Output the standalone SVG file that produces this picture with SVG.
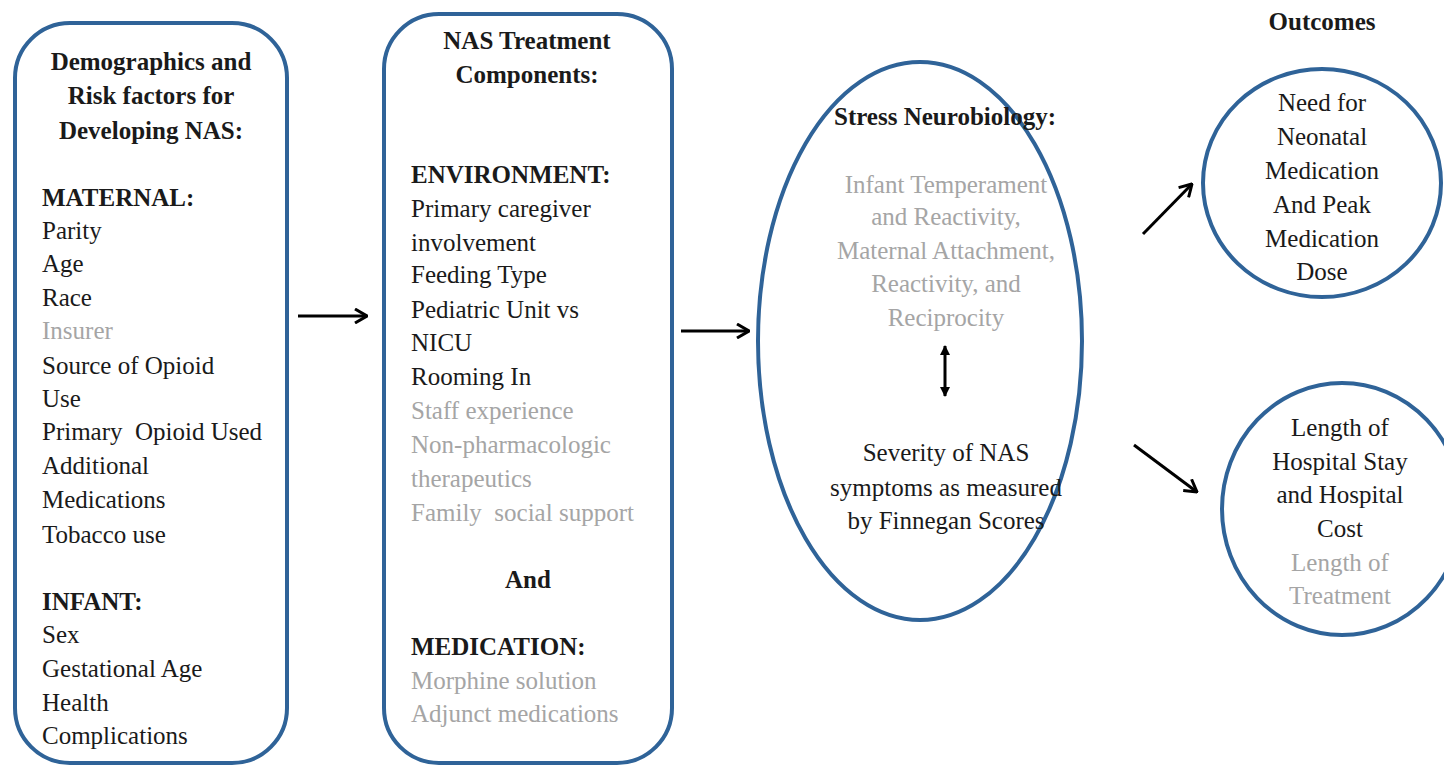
<svg xmlns="http://www.w3.org/2000/svg" width="1444" height="767" viewBox="0 0 1444 767">
<defs>
<style>
.shape{fill:#fff;stroke:#2f6398;stroke-width:4}
.t{font-family:"Liberation Serif","Times New Roman",serif;font-size:25px;fill:#1a1a1a}
.b{font-weight:bold}
.g{fill:#a5a5a5}
.c{text-anchor:middle}
.conn{stroke:#000;stroke-width:3;fill:none}
</style>
<marker id="open" viewBox="0 0 14 16" refX="13" refY="8" markerWidth="14" markerHeight="16" markerUnits="userSpaceOnUse" orient="auto">
<polyline points="1,1 13,8 1,15" fill="none" stroke="#000" stroke-width="3"/>
</marker>
<marker id="solid" viewBox="0 0 10 10" refX="9" refY="5" markerWidth="10" markerHeight="10" markerUnits="userSpaceOnUse" orient="auto-start-reverse">
<path d="M0,0 L10,5 L0,10 Z" fill="#000"/>
</marker>
</defs>
<rect width="1444" height="767" fill="#fff"/>

<g id="demographics">
<rect class="shape" x="15" y="23" width="272" height="740" rx="55" ry="55"/>
<text class="t b c" x="151" y="70">Demographics and</text>
<text class="t b c" x="151" y="104">Risk factors for</text>
<text class="t b c" x="151" y="139">Developing NAS:</text>
<text class="t b" x="42" y="206">MATERNAL:</text>
<text class="t" x="42" y="239">Parity</text>
<text class="t" x="42" y="272">Age</text>
<text class="t" x="42" y="306">Race</text>
<text class="t g" x="42" y="339">Insurer</text>
<text class="t" x="42" y="374">Source of Opioid</text>
<text class="t" x="42" y="407">Use</text>
<text class="t" x="42" y="440">Primary&#160; Opioid Used</text>
<text class="t" x="42" y="474">Additional</text>
<text class="t" x="42" y="508">Medications</text>
<text class="t" x="42" y="543">Tobacco use</text>
<text class="t b" x="42" y="610">INFANT:</text>
<text class="t" x="42" y="643">Sex</text>
<text class="t" x="42" y="677">Gestational Age</text>
<text class="t" x="42" y="711">Health</text>
<text class="t" x="42" y="744">Complications</text>
</g>

<g id="treatment">
<rect class="shape" x="384" y="14" width="288" height="749" rx="55" ry="55"/>
<text class="t b c" x="527" y="49">NAS Treatment</text>
<text class="t b c" x="527" y="83">Components:</text>
<text class="t b" x="411" y="183">ENVIRONMENT:</text>
<text class="t" x="411" y="217">Primary caregiver</text>
<text class="t" x="411" y="251">involvement</text>
<text class="t" x="411" y="283">Feeding Type</text>
<text class="t" x="411" y="318">Pediatric Unit vs</text>
<text class="t" x="411" y="351">NICU</text>
<text class="t" x="411" y="385">Rooming In</text>
<text class="t g" x="411" y="419">Staff experience</text>
<text class="t g" x="411" y="453">Non-pharmacologic</text>
<text class="t g" x="411" y="487">therapeutics</text>
<text class="t g" x="411" y="521">Family&#160; social support</text>
<text class="t b c" x="528" y="588">And</text>
<text class="t b" x="411" y="655">MEDICATION:</text>
<text class="t g" x="411" y="689">Morphine solution</text>
<text class="t g" x="411" y="722">Adjunct medications</text>
</g>

<g id="stress">
<ellipse class="shape" cx="920" cy="341" rx="162" ry="279"/>
<text class="t b c" x="945" y="125">Stress Neurobiology:</text>
<text class="t g c" x="946" y="193">Infant Temperament</text>
<text class="t g c" x="946" y="225">and Reactivity,</text>
<text class="t g c" x="946" y="259">Maternal Attachment,</text>
<text class="t g c" x="946" y="292">Reactivity, and</text>
<text class="t g c" x="946" y="326">Reciprocity</text>
<text class="t c" x="946" y="461">Severity of NAS</text>
<text class="t c" x="946" y="496">symptoms as measured</text>
<text class="t c" x="946" y="529">by Finnegan Scores</text>
</g>

<g id="outcomes-title">
<text class="t b c" x="1322" y="30">Outcomes</text>
</g>

<g id="outcome-medication">
<ellipse class="shape" cx="1322" cy="183" rx="119" ry="114"/>
<text class="t c" x="1322" y="111">Need for</text>
<text class="t c" x="1322" y="145">Neonatal</text>
<text class="t c" x="1322" y="179">Medication</text>
<text class="t c" x="1322" y="213">And Peak</text>
<text class="t c" x="1322" y="247">Medication</text>
<text class="t c" x="1322" y="280">Dose</text>
</g>

<g id="outcome-stay">
<ellipse class="shape" cx="1342" cy="509" rx="120" ry="126"/>
<text class="t c" x="1340" y="436">Length of</text>
<text class="t c" x="1340" y="470">Hospital Stay</text>
<text class="t c" x="1340" y="503">and Hospital</text>
<text class="t c" x="1340" y="537">Cost</text>
<text class="t g c" x="1340" y="571">Length of</text>
<text class="t g c" x="1340" y="604">Treatment</text>
</g>

<g id="connectors">
<line class="conn" x1="298" y1="316" x2="367" y2="316" marker-end="url(#open)"/>
<line class="conn" x1="681" y1="331" x2="749" y2="331" marker-end="url(#open)"/>
<line class="conn" x1="945" y1="346" x2="945" y2="396" marker-start="url(#solid)" marker-end="url(#solid)"/>
<line class="conn" x1="1143" y1="234" x2="1192" y2="184" marker-end="url(#open)"/>
<line class="conn" x1="1134" y1="445" x2="1197" y2="492" marker-end="url(#open)"/>
</g>
</svg>
